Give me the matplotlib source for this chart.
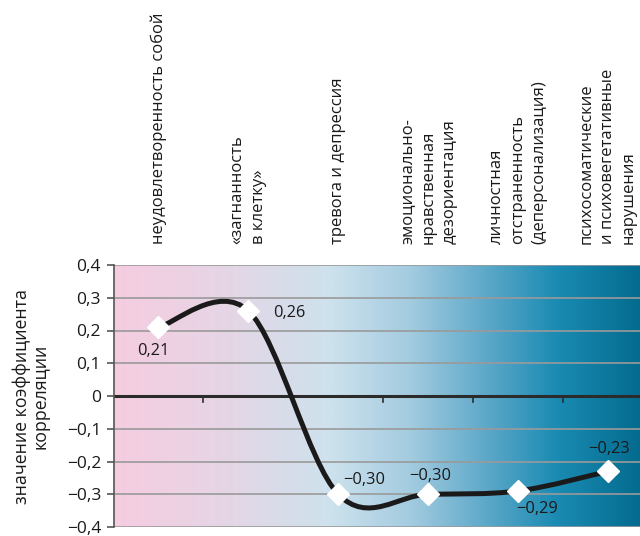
import numpy as np
import matplotlib
matplotlib.use("Agg")
import matplotlib.pyplot as plt
from matplotlib.path import Path
from matplotlib.patches import PathPatch
from matplotlib.colors import LinearSegmentedColormap

plt.rcParams['font.family'] = ['Open Sans', 'DejaVu Sans']

categories = [
    "неудовлетворенность собой",
    "«загнанность\nв клетку»",
    "тревога и депрессия",
    "эмоционально-\nнравственная\nдезориентация",
    "личностная\nотстраненность\n(деперсонализация)",
    "психосоматические\nи психовегетативные\nнарушения",
]
values = [0.21, 0.26, -0.30, -0.30, -0.29, -0.23]
value_labels = ["0,21", "0,26", "\u22120,30", "\u22120,30", "\u22120,29", "\u22120,23"]
yticks = [0.4, 0.3, 0.2, 0.1, 0.0, -0.1, -0.2, -0.3, -0.4]
ytick_labels = ["0,4", "0,3", "0,2", "0,1", "0", "\u22120,1", "\u22120,2", "\u22120,3", "\u22120,4"]
ylabel = "значение коэффициента\nкорреляции"

fig = plt.figure(figsize=(6.4, 5.36), dpi=100)
ax = fig.add_axes([113.5 / 640, 9 / 536, (653 - 113.5) / 640, 262 / 536])

x = np.arange(len(values))
y = np.array(values)
ax.set_xlim(-0.5, len(values) - 0.5)
ax.set_ylim(-0.4, 0.4)

# horizontal gradient background
stops = [(0.00, "#f6cce0"), (0.22, "#e4d6e6"), (0.40, "#cde2ed"),
         (0.55, "#a3cbe0"), (0.70, "#58a6c7"), (0.82, "#1b8bb3"),
         (1.00, "#006689")]
cmap = LinearSegmentedColormap.from_list("bg", stops)
grad = np.linspace(0, 1, 512).reshape(1, -1)
ax.imshow(grad, cmap=cmap, aspect="auto", extent=(-0.5, len(values) - 0.5, -0.4, 0.4),
          zorder=0, interpolation="bilinear")

# grid lines
for t in yticks:
    if t != 0:
        ax.axhline(t, color="#9a9a9a", lw=1.2, zorder=1)
ax.axhline(0, color="#2b2b2b", lw=2.2, zorder=2)
for b in np.arange(0.5, len(values) - 0.5, 1.0):
    ax.plot([b, b], [0, -0.018], color="#2b2b2b", lw=1.2, zorder=2, clip_on=False)

# smoothed curve (Catmull-Rom style Bezier segments)
pts = np.column_stack([x, y]).astype(float)
verts = [pts[0]]
codes = [Path.MOVETO]
n = len(pts)
for i in range(n - 1):
    p0 = pts[i - 1] if i > 0 else pts[i]
    p1 = pts[i]
    p2 = pts[i + 1]
    p3 = pts[i + 2] if i + 2 < n else pts[i + 1]
    c1 = p1 + (p2 - p0) / 6.0
    c2 = p2 - (p3 - p1) / 6.0
    verts += [c1, c2, p2]
    codes += [Path.CURVE4] * 3
curve = PathPatch(Path(verts, codes), facecolor="none", edgecolor="#1a1a1a", lw=3.6,
                  zorder=3, capstyle="round", joinstyle="round")
ax.add_patch(curve)

ax.plot(x, y, linestyle="none", marker="D", markersize=11, markerfacecolor="white",
        markeredgecolor="white", zorder=4)

# value labels
offsets = [(-5, -24, "center"), (25, -2, "left"), (5, 14, "left"),
           (2, 18, "center"), (19, -18, "center"), (1, 22, "center")]
for xi, yi, lab, (dx, dy, ha) in zip(x, y, value_labels, offsets):
    ax.annotate(lab, (xi, yi), xytext=(dx, dy), textcoords="offset pixels",
                ha=ha, va="center", fontsize=11.8, color="#1a1a1a", zorder=5)

# category labels above the plot
for xi, lab in zip(x, categories):
    ax.text(xi, 0.4 + 0.065, lab, rotation=90, ha="center", va="bottom",
            multialignment="left", fontsize=12, linespacing=1.42, color="#1a1a1a")

ax.set_yticks(yticks)
ax.set_yticklabels(ytick_labels, fontsize=12.5, color="#1a1a1a")
ax.set_xticks([])
ax.tick_params(axis="y", direction="out", length=5, width=1.2, color="#555555", pad=4)
for s in ["top", "right", "bottom"]:
    ax.spines[s].set_visible(False)
ax.spines["left"].set_color("#555555")
ax.spines["left"].set_linewidth(1.2)
ax.set_ylabel(ylabel, fontsize=12.8, color="#1a1a1a", linespacing=1.05, labelpad=12)

fig.savefig("out.png", dpi=100)
